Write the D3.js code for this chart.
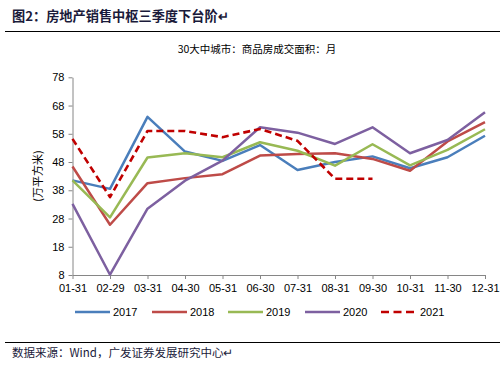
<!DOCTYPE html>
<html>
<head>
<meta charset="utf-8">
<script src="https://cdn.jsdelivr.net/npm/d3@7"></script>
<style>
body{margin:0;background:#fff;}
svg{display:block;}
</style>
</head>
<body>
<div id="chart"></div>
<script>
// months on the x axis
var months = ["01-31","02-29","03-31","04-30","05-31","06-30","07-31","08-31","09-30","10-31","11-30","12-31"];
var yTicks = [8,18,28,38,48,58,68,78];

var s2017 = [41.5,38.5,64,51.7,48.4,54,45.2,48,50,45.8,49.7,57.3];
var s2018 = [46.4,25.8,40.5,42.3,43.7,50.3,50.8,51.1,49.1,44.9,55.3,62.1];
var s2019 = [41.5,28.4,49.6,51.1,49.7,55,52,46.7,54.3,46.8,52.3,59.6];
var s2020 = [33.2,8.1,31.5,41.4,48.5,60.3,58.4,54.4,60.3,51.1,55.8,65.6];
var s2021 = [56.2,35.6,59,59,56.8,59.7,55.5,42.1,42.1];

var series = [
	{name:"2017", values:s2017, color:"#4A7EBB", dash:null},
	{name:"2018", values:s2018, color:"#BE4B48", dash:null},
	{name:"2019", values:s2019, color:"#98B954", dash:null},
	{name:"2020", values:s2020, color:"#7D60A0", dash:null},
	{name:"2021", values:s2021, color:"#C00000", dash:"7,4"}
];

var width = 500, height = 375;
var svg = d3.select("#chart").append("svg")
	.attr("width", width)
	.attr("height", height);

var cjk = "'Noto Sans CJK SC', sans-serif";
var latin = "'Liberation Sans', Arial, sans-serif";

// header
svg.append("text")
	.attr("x", 12).attr("y", 21)
	.attr("font-family", cjk).attr("font-weight", "bold")
	.attr("font-size", 13.2).attr("fill", "#1a1a3a")
	.text("图2：房地产销售中枢三季度下台阶↵");
svg.append("line")
	.attr("x1", 5).attr("x2", 500).attr("y1", 31.5).attr("y2", 31.5)
	.attr("stroke", "#000").attr("stroke-width", 1.2);

svg.append("text")
	.attr("x", 257).attr("y", 53)
	.attr("text-anchor", "middle")
	.attr("font-family", cjk).attr("font-size", 10.5).attr("fill", "#000")
	.text("30大中城市：商品房成交面积：月");

var x = d3.scalePoint().domain(months).range([72.5, 485]);
var y = d3.scaleLinear().domain([8, 78]).range([275, 77.3]);

// axes
var xAxis = svg.append("g")
	.attr("transform", "translate(0,275)")
	.call(d3.axisBottom(x).tickSize(4).tickSizeOuter(0));
var yAxis = svg.append("g")
	.attr("transform", "translate(72.5,0)")
	.call(d3.axisLeft(y).tickValues(yTicks).tickSize(4).tickSizeOuter(0));

[xAxis, yAxis].forEach(function(a){
	a.select(".domain").attr("stroke", "#868686");
	a.selectAll(".tick line").attr("stroke", "#868686");
	a.selectAll("text").attr("font-family", latin).attr("font-size", 11).attr("fill", "#000");
});
xAxis.selectAll("text").attr("dy", "0.95em");
yAxis.selectAll("text").attr("dx", "-1px");

svg.append("text")
	.attr("transform", "translate(42,176) rotate(-90)")
	.attr("text-anchor", "middle")
	.attr("font-family", cjk).attr("font-size", 11).attr("fill", "#000")
	.text("(万平方米)");

// lines
var line = d3.line()
	.x(function(d, i){ return x(months[i]); })
	.y(function(d){ return y(d); });

svg.selectAll(".series")
	.data(series)
	.enter().append("path")
	.attr("class", "series")
	.attr("d", function(d){ return line(d.values); })
	.attr("fill", "none")
	.attr("stroke", function(d){ return d.color; })
	.attr("stroke-width", function(d){ return d.dash ? 2.6 : 2.5; })
	.attr("stroke-dasharray", function(d){ return d.dash; })
	.attr("stroke-linejoin", "round");

// legend
var legX = [75, 152, 228, 305, 381];
var leg = svg.selectAll(".leg")
	.data(series)
	.enter().append("g")
	.attr("class", "leg")
	.attr("transform", function(d, i){ return "translate(" + legX[i] + ",312)"; });
leg.append("line")
	.attr("x1", 0).attr("x2", function(d){ return d.dash ? 34 : 35; })
	.attr("stroke", function(d){ return d.color; })
	.attr("stroke-width", function(d){ return d.dash ? 2.6 : 2.5; })
	.attr("stroke-dasharray", function(d){ return d.dash ? "8,4.5" : null; });
leg.append("text")
	.attr("x", function(d){ return d.dash ? 39 : 38; })
	.attr("y", 4)
	.attr("font-family", latin).attr("font-size", 11).attr("fill", "#000")
	.text(function(d){ return d.name; });

// footer
svg.append("line")
	.attr("x1", 5).attr("x2", 500).attr("y1", 342.5).attr("y2", 342.5)
	.attr("stroke", "#000").attr("stroke-width", 1);
svg.append("text")
	.attr("x", 12).attr("y", 357)
	.attr("font-family", cjk).attr("font-size", 11.5).attr("fill", "#1a1a3a")
	.text("数据来源：Wind，广发证券发展研究中心↵");
</script>
</body>
</html>
